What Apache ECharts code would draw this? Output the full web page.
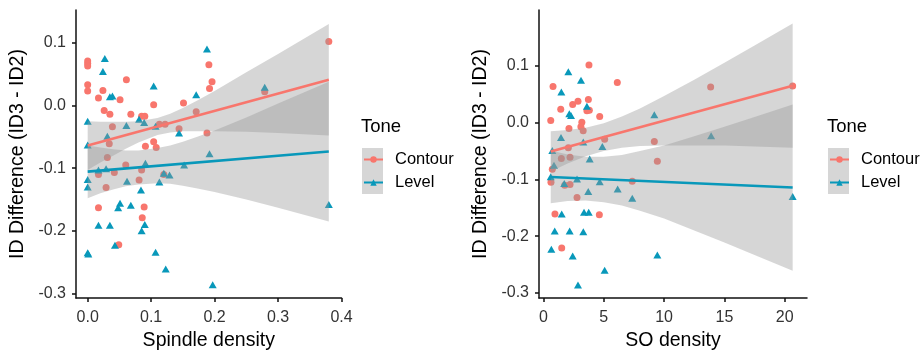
<!DOCTYPE html>
<html><head><meta charset="utf-8">
<script src="https://cdn.jsdelivr.net/npm/echarts@6/dist/echarts.min.js"></script>
<style>html,body{margin:0;padding:0;background:#fff}#c{width:920px;height:356px}</style>
</head><body><div id="c"></div>
<script>
// ---------- data ----------
const toneNames = ['Contour', 'Level'];
const toneColors = ['#F8766D', '#0898BA'];
const spindleTicks = [0, 0.1, 0.2, 0.3, 0.4];
const soTicks = [0, 5, 10, 15, 20];
const idTicks = [-0.3, -0.2, -0.1, 0, 0.1];

// Spindle density (x) vs ID difference (y)
const spindleContour = [
  [0.0,0.071],[0.0,0.067],[0.0,0.063],[0.0,0.033],[0.0,0.023],[0.017,0.012],[0.024,0.024],
  [0.026,-0.008],[0.035,-0.014],[0.039,-0.034],[0.051,0.009],[0.061,0.041],[0.068,-0.014],
  [0.085,-0.017],[0.090,-0.017],[0.104,0.001],[0.113,-0.030],[0.122,-0.030],[0.034,-0.061],
  [0.091,-0.065],[0.104,-0.058],[0.108,-0.067],[0.031,-0.083],[0.017,-0.110],[0.042,-0.107],
  [0.060,-0.095],[0.085,-0.103],[0.029,-0.131],[0.081,-0.119],[0.120,-0.110],[0.017,-0.163],
  [0.089,-0.162],[0.086,-0.179],[0.049,-0.222],[0.151,0.004],[0.171,-0.010],[0.188,-0.044],
  [0.191,0.065],[0.196,0.038],[0.192,0.027],[0.279,0.022],[0.380,0.102],[0.144,-0.037]
];
const spindleLevel = [
  [0.027,0.075],[0.024,0.054],[0.035,0.014],[0.039,0.015],[0.0,-0.025],[0.031,-0.049],
  [0.061,-0.032],[0.081,-0.022],[0.089,-0.027],[0.104,0.031],[0.107,-0.033],[0.144,-0.044],
  [0.171,0.017],[0.188,0.090],[0.0,-0.063],[0.279,0.029],[0.192,-0.077],[0.380,-0.158],
  [0.197,-0.286],[0.017,-0.103],[0.029,-0.101],[0.091,-0.092],[0.0,-0.118],[0.0,-0.130],
  [0.062,-0.121],[0.084,-0.135],[0.113,-0.122],[0.120,-0.108],[0.129,-0.111],[0.152,-0.095],
  [0.051,-0.156],[0.048,-0.163],[0.068,-0.159],[0.017,-0.191],[0.035,-0.191],[0.090,-0.190],
  [0.085,-0.200],[0.043,-0.223],[0.0,-0.235],[0.001,-0.237],[0.107,-0.234],[0.123,-0.261]
];
const spindleContourFit = [[0, -0.064], [0.38, 0.041]];
const spindleLevelFit = [[0, -0.1055], [0.38, -0.0735]];
// [x, lower, upper] of the 95% confidence ribbon
const spindleContourBand = [
  [0,-0.103,-0.025],[0.02,-0.091,-0.026],[0.04,-0.080,-0.026],[0.06,-0.069,-0.026],
  [0.08,-0.059,-0.025],[0.11,-0.047,-0.020],[0.13,-0.043,-0.013],[0.15,-0.041,-0.004],
  [0.175,-0.041,0.009],[0.2,-0.041,0.023],[0.25,-0.042,0.053],[0.3,-0.044,0.082],[0.38,-0.048,0.130]
];
const spindleLevelBand = [
  [0,-0.148,-0.064],[0.02,-0.140,-0.067],[0.04,-0.134,-0.070],[0.06,-0.129,-0.072],
  [0.08,-0.126,-0.072],[0.11,-0.124,-0.068],[0.13,-0.125,-0.064],[0.15,-0.128,-0.058],
  [0.175,-0.133,-0.049],[0.2,-0.138,-0.040],[0.25,-0.150,-0.019],[0.3,-0.163,0.003],[0.38,-0.185,0.038]
];

// SO density (x) vs ID difference (y)
const soContour = [
  [3.77,0.102],[6.12,0.071],[0.79,0.064],[1.43,0.024],[2.42,0.032],[2.86,0.038],[3.72,0.041],
  [3.60,0.021],[3.80,0.022],[4.66,0.011],[0.60,0.004],[3.18,0.001],[2.11,-0.010],[3.10,-0.007],
  [3.29,-0.014],[5.07,-0.029],[13.86,0.063],[2.06,-0.044],[9.19,-0.033],[1.48,-0.063],
  [2.20,-0.061],[9.44,-0.068],[0.73,-0.082],[0.62,-0.105],[1.76,-0.110],[2.20,-0.109],
  [2.78,-0.132],[7.36,-0.103],[0.95,-0.161],[4.63,-0.162],[1.51,-0.221],[20.66,0.065]
];
const soLevel = [
  [2.06,0.090],[3.11,0.075],[1.48,0.054],[2.14,0.016],[2.28,0.013],[3.60,0.029],[1.45,-0.026],
  [3.30,-0.034],[4.88,-0.042],[9.19,0.014],[13.9,-0.023],[0.73,-0.049],[3.83,-0.064],
  [0.87,-0.075],[0.60,-0.095],[1.72,-0.107],[2.78,-0.099],[4.66,-0.104],[3.71,-0.121],
  [6.15,-0.117],[7.36,-0.133],[1.51,-0.161],[3.36,-0.158],[3.75,-0.158],[0.93,-0.191],
  [2.17,-0.191],[3.30,-0.192],[0.65,-0.223],[2.42,-0.235],[5.07,-0.260],[2.86,-0.286],
  [9.44,-0.233],[20.66,-0.130]
];
const soContourFit = [[0.6, -0.0505], [20.66, 0.0654]];
const soLevelFit = [[0.6, -0.0957], [20.66, -0.1143]];
const soContourBand = [
  [0.6,-0.086,-0.015],[2,-0.072,-0.013],[3.5,-0.059,-0.009],[5,-0.050,-0.001],[6.5,-0.044,0.011],
  [8,-0.041,0.025],[10,-0.040,0.047],[12.5,-0.040,0.076],[15,-0.040,0.106],[17.5,-0.042,0.136],[20.66,-0.044,0.175]
];
const soLevelBand = [
  [0.6,-0.142,-0.049],[2,-0.138,-0.056],[3.5,-0.137,-0.060],[5,-0.140,-0.060],[6.5,-0.146,-0.057],
  [8,-0.155,-0.050],[10,-0.169,-0.040],[12.5,-0.190,-0.024],[15,-0.211,-0.007],[17.5,-0.233,0.010],[20.66,-0.261,0.032]
];

// ---------- chart ----------
const FONT = 'Liberation Sans, Arial, sans-serif';
const RIBBON = 'rgba(153,153,153,0.4)';
const AXIS = '#111';

function xAxis(gi, min, max, ticks, name, dec) {
  return {
    type: 'value', gridIndex: gi, min: min, max: max,
    name: name, nameLocation: 'middle', nameGap: 33,
    nameTextStyle: { fontFamily: FONT, fontSize: 19.5, color: '#000' },
    axisLine: { onZero: false, lineStyle: { color: AXIS, width: 1.5 } },
    axisTick: { show: true, length: 4, lineStyle: { color: AXIS, width: 1.5 }, customValues: ticks },
    axisLabel: { customValues: ticks, fontFamily: FONT, fontSize: 16, color: '#333', margin: 12,
      formatter: v => dec ? v.toFixed(dec) : String(v) },
    splitLine: { show: false }
  };
}
function yAxis(gi, min, max, ticks, name) {
  return {
    type: 'value', gridIndex: gi, min: min, max: max,
    name: name, nameLocation: 'middle', nameGap: 48,
    nameTextStyle: { fontFamily: FONT, fontSize: 19.5, color: '#000' },
    axisLine: { onZero: false, lineStyle: { color: AXIS, width: 1.5 } },
    axisTick: { show: true, length: 4, lineStyle: { color: AXIS, width: 1.5 }, customValues: ticks },
    axisLabel: { customValues: ticks, fontFamily: FONT, fontSize: 16, color: '#333', margin: 10,
      formatter: v => v.toFixed(1) },
    splitLine: { show: false }
  };
}
function fitSeries(i, data, gi) {
  return {
    type: 'line', name: toneNames[i], xAxisIndex: gi, yAxisIndex: gi, data: data,
    symbol: i === 0 ? 'circle' : 'triangle', showSymbol: false, z: 5,
    itemStyle: { color: toneColors[i] },
    lineStyle: { color: toneColors[i], width: 2.6 }, silent: true
  };
}
function pointSeries(i, data, gi) {
  return {
    type: 'scatter', name: toneNames[i], xAxisIndex: gi, yAxisIndex: gi, data: data,
    symbol: i === 0 ? 'circle' : 'triangle', symbolSize: i === 0 ? 7 : [8, 7], z: 1,
    itemStyle: { color: toneColors[i], opacity: 1 }, silent: true
  };
}
function bandSeries(band, gi) {
  return {
    type: 'custom', xAxisIndex: gi, yAxisIndex: gi, data: band, encode: { x: 0, y: [1, 2] },
    z: 3, silent: true,
    renderItem: function (params, api) {
      if (params.dataIndex !== 0) return null;
      const top = band.map(r => api.coord([r[0], r[2]]));
      const bot = band.slice().reverse().map(r => api.coord([r[0], r[1]]));
      return { type: 'polygon', shape: { points: top.concat(bot) }, style: { fill: RIBBON } };
    }
  };
}
function legend(left) {
  return {
    orient: 'vertical', left: left, top: 148, padding: 0, itemGap: 0,
    itemWidth: 19, itemHeight: 8, data: toneNames, selectedMode: false,
    textStyle: { fontFamily: FONT, fontSize: 16.5, color: '#000', lineHeight: 23, padding: [0, 0, 0, 7] }
  };
}

const chart = echarts.init(document.getElementById('c'), null, { renderer: 'canvas' });
chart.setOption({
  animation: false,
  backgroundColor: '#fff',
  grid: [
    { left: 76, top: 10, width: 265.5, height: 291.7 },
    { left: 539, top: 10, width: 268, height: 292 }
  ],
  xAxis: [
    xAxis(0, -0.0184, 0.4, spindleTicks, 'Spindle density', 1),
    xAxis(1, -0.373, 21.85, soTicks, 'SO density', 0)
  ],
  yAxis: [
    yAxis(0, -0.3071, 0.1523, idTicks, 'ID Difference (ID3 - ID2)'),
    yAxis(1, -0.309, 0.1988, idTicks, 'ID Difference (ID3 - ID2)')
  ],
  title: [
    { text: 'Tone', left: 361, top: 117, padding: 0, textStyle: { fontFamily: FONT, fontSize: 18.5, fontWeight: 'normal', color: '#000' } },
    { text: 'Tone', left: 827, top: 117, padding: 0, textStyle: { fontFamily: FONT, fontSize: 18.5, fontWeight: 'normal', color: '#000' } }
  ],
  legend: [legend(363), legend(829)],
  graphic: [
    { type: 'rect', left: 362, top: 148, z: -1, shape: { width: 21, height: 46 }, style: { fill: RIBBON } },
    { type: 'rect', left: 828, top: 148, z: -1, shape: { width: 21, height: 46 }, style: { fill: RIBBON } }
  ],
  series: [
    fitSeries(0, spindleContourFit, 0),
    fitSeries(1, spindleLevelFit, 0),
    fitSeries(0, soContourFit, 1),
    fitSeries(1, soLevelFit, 1),
    pointSeries(0, spindleContour, 0),
    pointSeries(1, spindleLevel, 0),
    pointSeries(0, soContour, 1),
    pointSeries(1, soLevel, 1),
    bandSeries(spindleContourBand, 0),
    bandSeries(spindleLevelBand, 0),
    bandSeries(soContourBand, 1),
    bandSeries(soLevelBand, 1)
  ]
});
</script>
</body></html>
